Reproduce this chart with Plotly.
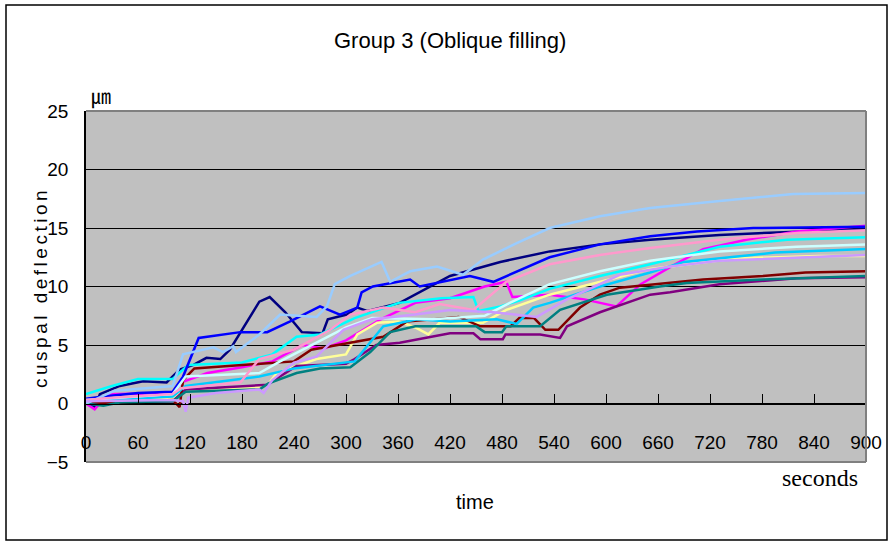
import plotly.graph_objects as go

# ---- axis ticks -------------------------------------------------------------
x_ticks = [0, 60, 120, 180, 240, 300, 360, 420, 480, 540, 600, 660, 720, 780, 840, 900]
y_ticks = [-5, 0, 5, 10, 15, 20, 25]

# ---- cuspal deflection (um) versus time (s), one pair of lists per specimen ----
t_navy = [0, 10, 16, 39, 66, 93, 108, 124, 139, 155, 166, 200, 212, 230, 249, 273,
          279, 301, 313, 325, 362, 420, 478, 535, 593, 651, 731, 789, 900]
y_navy = [0, -0.3, 0.8, 1.5, 1.9, 1.8, 2.9, 3.3, 3.9, 3.8, 4.6, 8.7, 9.1, 7.8, 6.1, 6.0,
          7.2, 7.6, 8.2, 7.9, 8.6, 10.9, 12.1, 13.0, 13.6, 14.0, 14.4, 14.6, 14.9]

t_magenta = [0, 10, 25, 100, 110, 140, 180, 215, 250, 275, 300, 340, 380, 420, 460,
             485, 492, 535, 575, 612, 640, 675, 712, 762, 820, 900]
y_magenta = [0, -0.5, 0.8, 0.9, 1.8, 2.6, 3.1, 3.6, 5.0, 4.7, 5.4, 7.2, 8.6, 9.0, 10.0,
             10.4, 9.1, 9.3, 8.9, 8.3, 10.2, 11.7, 13.2, 14.0, 14.7, 15.2]

t_yellow = [0, 100, 115, 200, 210, 220, 266, 300, 313, 336, 361, 380, 395, 408, 458,
            485, 535, 593, 651, 749, 845, 900]
y_yellow = [0.3, 0.5, 1.2, 1.4, 1.6, 2.6, 3.8, 4.2, 5.9, 6.9, 7.0, 6.5, 5.9, 6.9, 6.9,
            8.0, 9.3, 10.4, 11.5, 12.4, 12.6, 12.6]

t_cyan = [0, 30, 60, 100, 118, 180, 215, 243, 270, 310, 361, 410, 447, 453, 478, 500,
          535, 593, 651, 731, 809, 900]
y_cyan = [0.8, 1.5, 2.1, 2.1, 3.3, 3.5, 4.2, 5.7, 5.9, 7.3, 8.6, 9.0, 9.1, 7.9, 8.3, 8.8,
          9.8, 10.9, 11.9, 13.4, 14.0, 14.2]

t_purple = [0, 100, 115, 210, 217, 243, 300, 310, 335, 362, 420, 447, 455, 481, 484,
            524, 547, 555, 593, 651, 674, 731, 820, 900]
y_purple = [0.1, 0.2, 1.2, 1.6, 2.0, 3.2, 3.4, 3.8, 5.0, 5.2, 6.0, 6.0, 5.5, 5.5, 5.9,
            5.9, 5.6, 6.6, 7.8, 9.3, 9.5, 10.2, 10.7, 10.8]

t_maroon = [0, 100, 108, 112, 125, 200, 240, 260, 300, 343, 370, 430, 455, 490, 500,
            517, 530, 545, 570, 593, 616, 654, 712, 781, 830, 900]
y_maroon = [0, 0.3, -0.3, 2.0, 3.0, 3.4, 3.6, 4.6, 5.1, 5.7, 7.0, 7.4, 6.6, 6.6, 7.3,
            7.3, 6.3, 6.3, 8.2, 9.3, 9.9, 10.2, 10.6, 10.9, 11.2, 11.3]

t_teal = [0, 20, 40, 100, 115, 200, 210, 243, 270, 305, 328, 351, 380, 450, 460, 480,
          485, 524, 547, 601, 662, 693, 781, 900]
y_teal = [0, -0.2, 0.1, 0.2, 1.0, 1.2, 1.7, 2.6, 3.0, 3.1, 4.4, 6.1, 6.6, 6.6, 6.1, 6.1,
          6.6, 6.6, 8.0, 9.3, 10.0, 10.3, 10.6, 10.9]

t_blue = [0, 20, 60, 100, 112, 124, 130, 178, 209, 235, 270, 293, 313, 318, 331, 374,
          385, 443, 470, 535, 593, 651, 705, 770, 900]
y_blue = [0.4, 0.6, 0.9, 1.0, 2.3, 4.6, 5.6, 6.1, 6.1, 7.0, 8.3, 7.6, 8.2, 9.5, 10.0, 10.6,
          10.0, 10.9, 10.4, 12.5, 13.6, 14.3, 14.7, 15.0, 15.1]

t_skyblue = [0, 100, 115, 200, 240, 290, 310, 343, 382, 420, 474, 497, 516, 535, 593,
             651, 690, 795, 900]
y_skyblue = [0.2, 0.6, 1.5, 2.3, 3.0, 3.4, 3.6, 6.6, 7.2, 7.0, 7.2, 6.8, 8.2, 8.6, 10.0,
             11.2, 12.1, 12.9, 13.2]

t_turquoise = [0, 100, 115, 200, 224, 260, 300, 330, 400, 460, 489, 535, 593, 651, 731,
               820, 900]
y_turquoise = [0.3, 0.8, 2.3, 2.6, 3.6, 5.0, 6.5, 7.3, 7.2, 7.5, 8.6, 10.2, 11.3, 12.2,
               13.0, 13.4, 13.6]

t_paleblue = [0, 33, 100, 112, 147, 158, 170, 173, 200, 224, 266, 278, 287, 305, 341,
              351, 374, 405, 435, 458, 497, 535, 593, 651, 731, 816, 900]
y_paleblue = [0, 1.1, 1.5, 4.2, 4.8, 4.4, 4.9, 4.4, 5.9, 7.6, 7.4, 8.3, 10.2, 10.9, 12.1,
              10.4, 11.3, 11.7, 11.0, 12.3, 13.7, 15.0, 16.0, 16.7, 17.3, 17.9, 18.0]

t_rose = [0, 30, 100, 110, 178, 200, 240, 282, 305, 343, 380, 408, 447, 485, 535, 593,
          651, 731, 824, 900]
y_rose = [0.3, 0.5, 0.8, 1.3, 1.8, 3.8, 4.6, 6.3, 7.6, 8.2, 7.8, 8.5, 8.0, 10.4, 11.9,
          12.7, 13.3, 14.0, 14.6, 14.8]

t_lavender = [0, 100, 112, 115, 118, 150, 200, 205, 215, 240, 266, 297, 330, 380, 420,
              470, 520, 555, 616, 674, 731, 900]
y_lavender = [0.2, 0.3, 0.2, -0.7, 0.5, 0.9, 1.2, 0.9, 2.0, 3.5, 4.0, 6.3, 7.2, 7.6, 8.0,
              7.8, 7.4, 8.9, 11.0, 11.7, 12.2, 12.7]

series = [
    (t_navy, y_navy, "#000080"),
    (t_magenta, y_magenta, "#FF00FF"),
    (t_yellow, y_yellow, "#FFFF99"),
    (t_cyan, y_cyan, "#00FFFF"),
    (t_purple, y_purple, "#800080"),
    (t_maroon, y_maroon, "#800000"),
    (t_teal, y_teal, "#008080"),
    (t_blue, y_blue, "#0000FF"),
    (t_skyblue, y_skyblue, "#00CCFF"),
    (t_turquoise, y_turquoise, "#CCFFFF"),
    (t_paleblue, y_paleblue, "#99CCFF"),
    (t_rose, y_rose, "#FF99CC"),
    (t_lavender, y_lavender, "#CC99FF"),
]

SANS = "Liberation Sans, Arial, sans-serif"

fig = go.Figure()
for t, v, color in series:
    fig.add_trace(go.Scatter(x=t, y=v, mode="lines",
                             line=dict(color=color, width=2.5),
                             hoverinfo="x+y"))

Y_MIN, Y_MAX = -5, 25
zero_pos = (0 - Y_MIN) / (Y_MAX - Y_MIN)

# plot-area edges: grey on top, right and bottom (left edge is the black value axis)
frame_grey = dict(color="#808080", width=2)
edge_lines = [
    dict(type="line", xref="paper", yref="paper", x0=0, x1=1, y0=1, y1=1, line=frame_grey),
    dict(type="line", xref="paper", yref="paper", x0=1, x1=1, y0=0, y1=1, line=frame_grey),
    dict(type="line", xref="paper", yref="paper", x0=0, x1=1, y0=0, y1=0, line=frame_grey),
]

fig.update_layout(
    width=893, height=543,
    margin=dict(l=86, r=27, t=111, b=81),
    paper_bgcolor="white",
    plot_bgcolor="#C0C0C0",
    showlegend=False,
    xaxis=dict(
        range=[0, 900], tickmode="array", tickvals=x_ticks,
        anchor="free", position=zero_pos,
        showline=True, linecolor="black", linewidth=1.2,
        ticks="inside", ticklen=9, tickcolor="black", tickwidth=1.2,
        showgrid=False, zeroline=False,
        tickfont=dict(family=SANS, size=19, color="black"),
        ticklabelstandoff=22,
    ),
    yaxis=dict(
        range=[Y_MIN, Y_MAX], tickmode="array", tickvals=y_ticks,
        showgrid=True, gridcolor="black", gridwidth=1,
        zeroline=False, showline=True, linecolor="black", linewidth=1.5,
        ticks="", tickfont=dict(family=SANS, size=19, color="black"),
        ticklabelstandoff=12,
    ),
    shapes=edge_lines + [
        # outer chart frame
        dict(type="rect", xref="paper", yref="paper",
             x0=(6 - 86) / 780, x1=(887 - 86) / 780,
             y0=(462 - 540) / 351, y1=(462 - 5) / 351,
             line=dict(color="black", width=1.5)),
    ],
    annotations=[
        dict(text="Group 3 (Oblique filling)", xref="paper", yref="paper",
             x=(450 - 86) / 780, y=(462 - 41) / 351, showarrow=False,
             xanchor="center", yanchor="middle",
             font=dict(family=SANS, size=22, color="black")),
        dict(text='<span style="letter-spacing:3.5px">cuspal deflection</span>',
             xref="paper", yref="paper",
             x=(40 - 86) / 780, y=(462 - 288) / 351, showarrow=False,
             textangle=-90, xanchor="center", yanchor="middle",
             font=dict(family=SANS, size=19, color="black")),
        dict(text="㎛", xref="paper", yref="paper",
             x=(101 - 86) / 780, y=(462 - 96) / 351, showarrow=False,
             xanchor="center", yanchor="middle",
             font=dict(family="Noto Sans CJK KR, sans-serif", size=20, color="black")),
        dict(text="seconds", xref="paper", yref="paper",
             x=(820 - 86) / 780, y=(462 - 478) / 351, showarrow=False,
             xanchor="center", yanchor="middle",
             font=dict(family="Liberation Serif, serif", size=24, color="black")),
        dict(text="time", xref="paper", yref="paper",
             x=(475 - 86) / 780, y=(462 - 502) / 351, showarrow=False,
             xanchor="center", yanchor="middle",
             font=dict(family=SANS, size=20, color="black")),
    ],
)

fig.write_html("out.html")
